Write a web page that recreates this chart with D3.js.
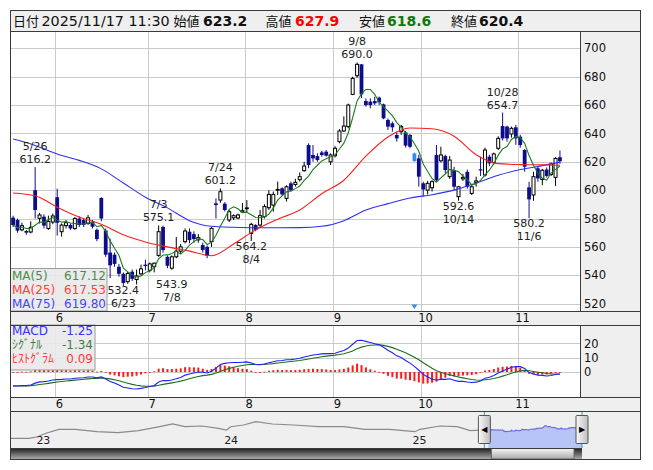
<!DOCTYPE html>
<html><head><meta charset="utf-8">
<script src="https://cdn.jsdelivr.net/npm/d3@7"></script>
<style>body{margin:0;background:#fff}svg{display:block}text{font-family:"DejaVu Sans","Noto Sans CJK JP",sans-serif}</style>
</head><body><svg id="c" width="653" height="470"></svg>
<script>
// ---------------- data ----------------
const dates = ["5/19","5/20","5/21","5/22","5/23","5/26","5/27","5/28","5/29","5/30",
"6/2","6/3","6/4","6/5","6/6","6/9","6/10","6/11","6/12","6/13","6/16","6/17","6/18","6/19","6/20","6/23","6/24","6/25","6/26","6/27","6/30",
"7/1","7/2","7/3","7/4","7/7","7/8","7/9","7/10","7/11","7/14","7/15","7/16","7/17","7/18","7/22","7/23","7/24","7/25","7/28","7/29","7/30","7/31",
"8/1","8/4","8/5","8/6","8/7","8/8","8/12","8/13","8/14","8/15","8/18","8/19","8/20","8/21","8/22","8/25","8/26","8/27","8/28","8/29",
"9/1","9/2","9/3","9/4","9/5","9/8","9/9","9/10","9/11","9/12","9/16","9/17","9/18","9/19","9/22","9/24","9/25","9/26","9/29","9/30",
"10/1","10/2","10/3","10/6","10/7","10/8","10/9","10/10","10/14","10/15","10/16","10/17","10/20","10/21","10/22","10/23","10/24","10/27","10/28","10/29","10/30","10/31",
"11/4","11/5","11/6","11/7","11/10","11/11","11/12","11/13","11/14","11/17"];
const opens = [580.6,579,572,571.2,570.5,600,580.1,581.3,573,577.5,
595,570.7,575,575.5,573,580,578.9,576.6,577.7,572,594.5,571.5,556,554.5,546,541,535.5,542.5,537,541,547.5,
543.5,546,554,574,553,545,553,557,563.7,570.7,569,565,561.3,560,563.7,590.7,593,590.5,579,580.5,580.4,584.6,
587,569.5,575.4,575.4,581.3,587.6,589.5,600.1,601.3,594.2,604.8,604,607.4,613.7,631.8,624.8,624,626.6,627.1,620,
624.3,634.2,641.7,644.8,667.5,680.7,688.7,662.8,662.4,662.8,665.2,660.5,649.5,647.1,638.9,641.2,640.7,638.9,625.9,622.4,
604.8,600,601.7,624.8,620.7,624,609.5,614.2,595.4,608,612.9,597.7,605.5,614.7,610.7,623.6,619.4,629.5,645.2,644.8,639.6,644.3,
637.7,628.3,602,596.6,615.4,607.5,614.5,611,609,623.2];
const highs = [582,580,577,572,578,616.2,584,583,582,583.5,
601,576.5,579,576.5,581,581.5,580,582.5,579,573,595,573,566,556,548,542,542.5,544,544,547.5,551,
549,549,575.1,575,554,554,567,562,573,573,571,569,563,561,574,594.2,601.2,591.5,586,583,583.5,591,
593,577,576,586,590,600,599,606,602,603.5,606,608,612.5,620,633,631.8,626,627.8,628.3,626,
631,643,652,661,680,690,688.9,664.7,664.7,665.9,666,661,650.6,648.3,641.2,646,641.7,639.5,626.5,625,
606,606.5,607,631.8,630.6,625,624,616.5,603,611.5,614.5,603.5,609.5,623.6,630,625,626.5,638,654.7,645.5,644.8,646,
639,629,605.9,613,617,615,616,619.5,623.2,627.9];
const lows = [574,570,571,568.5,569.5,580,576.5,573,572,576,
568,567.2,573,572,572,574,574,575.5,573,564,578,553,538,546,539,532.4,534,536,533.5,540,543.5,
542,542,553,556,545,543.9,552,555,562.5,562.5,563,563,556,552,560,580,591,585,577.5,579,579.5,584,
584,564.2,571,574,580,586,584.8,596.6,596,592,599,602.5,606,613,615.5,620,620,623.6,623.6,617.7,
623,633,641,643.6,667,679,665,658.9,657.7,660,660,650,642.4,641.2,634.2,639,630,629.5,620,602.5,
595.4,597,599,606,619.5,612,608,600,592.6,606.5,601,596.6,602.5,610,609.5,617,618,628.3,635,634.2,637,632,
630,613,580.2,592.5,606,603.5,609,610,603,618.6];
const closes = [575.4,571.5,575,570,573.8,586,582.5,575,578,581.8,
577,575.4,577,573,580,575.4,575.5,580.5,574.2,565.5,580,554.5,547,548,541,534.5,541.3,537.5,539.5,544.5,546.5,
548,548.5,570.7,557.8,546.7,553,557,560,571.2,564.8,565.5,566.5,557.8,553.8,573.1,589.5,598.9,586,584.8,582,582.5,585.5,
587.5,575.9,572,582,588.4,597,597,600.5,597,602.4,600,605.5,609.5,617,617.7,622.4,621.2,624.8,624.3,624.8,
629.5,641.7,645.2,660,678.8,688.7,667.5,660,660,661.2,661.9,650.6,644.8,644.3,636.5,644.8,631.4,630.6,620.5,609.5,
600.5,604.8,606,607.1,624.8,614.2,621.2,602.4,602.4,609,602.4,602.4,606.5,614.2,628.3,618.9,625.5,636.5,636.5,636.5,643.6,636.5,
631.8,616.5,593.5,609.5,608.3,614,610,618.5,622.4,620.4];
// moving averages 25 / 75 at every 5th session
const maIdx   = [0,5,10,15,20,25,30,35,40,45,50,55,60,65,70,75,80,85,90,95,100,105,110,115,120,124];
const ma25Vals = [598,596,588,581,576,568.5,563.5,560,557,553.8,562,572,579.5,586,597.5,607,624,637.5,643.8,643.3,638,625,618.7,618,617.8,617.5];
const ma75Vals = [636,631.5,625.5,621,615,605,595,587.5,578.5,574.5,573.8,573.5,573.5,573.6,574.5,578.5,586,590.5,594.5,596.8,600,605,610.5,614.5,617.3,619.8];
const priceTicks = [520,540,560,580,600,620,640,660,680,700];
const macdTicks = [0,10,20];
const highMarks = ["5/26","7/3","7/24","9/8","10/28"];
const lowMarks = ["6/23","7/8","8/4","10/14","11/6"];
const exRightsDate = "9/29";
const headerDate = "2025/11/17 11:30";
const headerLabels = ["始値","高値","安値","終値"];
const headerValues = ["623.2","627.9","618.6","620.4"];
const maLegendNames = ["MA(5)","MA(25)","MA(75)"];
const maLegendValues = ["617.12","617.53","619.80"];
const macdLegendNames = ["MACD","ｼｸﾞﾅﾙ","ﾋｽﾄｸﾞﾗﾑ"];
const macdLegendValues = ["-1.25","-1.34","0.09"];
// MACD state just before the first session
const macdStart = {ema12: 583, ema26: 592.8, signal: -9.8};
// navigator history (before the shown window)
const navDates = ["2022-11-02","2022-12-08","2022-12-25","2023-01-10","2023-02-04","2023-03-08","2023-04-19","2023-05-30","2023-07-09","2023-08-19","2023-09-13","2023-10-07","2023-11-09","2023-12-11","2023-12-27","2024-01-04","2024-01-29","2024-02-22","2024-03-25","2024-05-05","2024-06-23","2024-08-11","2024-09-21","2024-11-08","2024-12-27","2025-01-06","2025-02-14","2025-03-19","2025-04-14","2025-05-16"];
const navValues = [366,366,406,493,594,594,533,509,559,660,729,660,678,619,576,660,703,787,729,703,660,660,594,594,533,594,678,660,559,578];
const navYears = ["23","24","25"];

// ---------------- layout ----------------
const svg = d3.select("#c");
const L = 10.5, R = 640.5, PR = 580, TOP = 10.5, HB = 31, MB = 311, MT = 325, MCB = 397, NT = 411, ST = 448, BOT = 459.5;
const N = dates.length, SLOTS = 129, STEP = 4.41;
const x = d3.scaleBand().domain(d3.range(SLOTS)).range([10.9, 10.9 + SLOTS * STEP]).padding(0);
const cx = i => x(i) + x.bandwidth() / 2;
const y = d3.scaleLinear().domain([514.8, 712.2]).range([MB, HB]);
const yM = d3.scaleLinear().domain([-17.5, 32.9]).range([MCB, MT]);
const grid = "#cacaca", frame = "#3a3a3a", panel = "#efefef";

svg.append("rect").attr("x", L).attr("y", TOP).attr("width", R - L).attr("height", BOT - TOP).attr("fill", panel);
svg.append("rect").attr("x", L).attr("y", HB).attr("width", PR - L).attr("height", MB - HB).attr("fill", "#fff");
svg.append("rect").attr("x", L).attr("y", MT).attr("width", PR - L).attr("height", MCB - MT).attr("fill", "#fff");

const defs = svg.append("defs");
defs.append("clipPath").attr("id", "cm").append("rect").attr("x", L).attr("y", HB).attr("width", PR - L).attr("height", MB - HB);
defs.append("clipPath").attr("id", "cd").append("rect").attr("x", L).attr("y", MT).attr("width", PR - L).attr("height", MCB - MT);

// month starts
const monthStarts = [];
dates.forEach((d, i) => { if (i > 0 && d.split("/")[0] !== dates[i - 1].split("/")[0]) monthStarts.push(i); });

// ----- main gridlines -----
const gm = svg.append("g");
gm.selectAll(".h").data(priceTicks).join("line").attr("x1", L).attr("x2", PR)
  .attr("y1", d => Math.round(y(d)) + 0.5).attr("y2", d => Math.round(y(d)) + 0.5).attr("stroke", grid);
gm.selectAll(".v").data(monthStarts).join("line").attr("y1", HB).attr("y2", MB)
  .attr("x1", d => Math.round(x(d)) + 0.5).attr("x2", d => Math.round(x(d)) + 0.5).attr("stroke", grid);

// ----- candles -----
const cg = svg.append("g").attr("clip-path", "url(#cm)");
const down = "#0d0d8c", exCol = "#2e8cf0";
d3.range(N).forEach(i => {
  const up = closes[i] >= opens[i];
  const col = dates[i] === exRightsDate ? exCol : (up ? "#000" : down);
  cg.append("line").attr("x1", cx(i)).attr("x2", cx(i)).attr("y1", y(highs[i])).attr("y2", y(lows[i]))
    .attr("stroke", col).attr("stroke-width", 1);
  const top = y(Math.max(opens[i], closes[i])), bot = y(Math.min(opens[i], closes[i]));
  if (up) {
    cg.append("rect").attr("x", cx(i) - 1.5).attr("y", top).attr("width", 3).attr("height", Math.max(bot - top, 0.8))
      .attr("fill", "#fff").attr("stroke", "#000").attr("stroke-width", 1);
  } else {
    cg.append("rect").attr("x", cx(i) - 1.9).attr("y", top).attr("width", 3.8).attr("height", Math.max(bot - top, 1.2))
      .attr("fill", col);
  }
});

// ----- moving averages -----
const ma5 = closes.map((c, i) => d3.mean(closes.slice(Math.max(0, i - 4), i + 1)));
const lg = svg.append("g").attr("clip-path", "url(#cm)").attr("fill", "none");
lg.append("path").attr("d", d3.line().curve(d3.curveMonotoneX).x((d, k) => cx(maIdx[k])).y(d => y(d))(ma75Vals))
  .attr("stroke", "#2f2ff5").attr("stroke-width", 1.1);
lg.append("path").attr("d", d3.line().curve(d3.curveMonotoneX).x((d, k) => cx(maIdx[k])).y(d => y(d))(ma25Vals))
  .attr("stroke", "#f52020").attr("stroke-width", 1.1);
lg.append("path").attr("d", d3.line().x((d, i) => cx(i)).y(d => y(d))(ma5))
  .attr("stroke", "#1f7a1f").attr("stroke-width", 1.1);

// ----- high / low marks -----
const ann = svg.append("g").attr("font-size", "11px").attr("fill", "#222").attr("text-anchor", "middle");
highMarks.forEach(d => {
  const i = dates.indexOf(d), yy = y(highs[i]);
  ann.append("text").attr("x", cx(i)).attr("y", yy - 21).attr("dy", "0.36em").text(d);
  ann.append("text").attr("x", cx(i)).attr("y", yy - 8).attr("dy", "0.36em").text(highs[i].toFixed(1));
});
lowMarks.forEach(d => {
  const i = dates.indexOf(d);
  let yy = y(lows[i]);
  if (d === "7/8") yy += 9;
  const dateY = Math.min(yy + 18, 303);
  ann.append("text").attr("x", cx(i)).attr("y", dateY - 13).attr("dy", "0.36em").text(lows[i].toFixed(1));
  ann.append("text").attr("x", cx(i)).attr("y", dateY).attr("dy", "0.36em").text(d);
});
// ex-rights marker
const ei = dates.indexOf(exRightsDate);
svg.append("path").attr("d", `M${cx(ei) - 3},${304.5}L${cx(ei) + 3},${304.5}L${cx(ei)},${309}Z`).attr("fill", "#3b8be0");

// ----- MA legend -----
const leg = svg.append("g");
leg.append("rect").attr("x", L).attr("y", 268.5).attr("width", 96.5).attr("height", MB - 268.5)
  .attr("fill", "#e9e9e9").attr("fill-opacity", 0.9).attr("stroke", "#9a9a9a");
const maCols = ["#4b8b4b", "#ff4040", "#4545ff"];
maLegendNames.forEach((n, k) => {
  leg.append("text").attr("x", 12).attr("y", 276 + k * 13.6).attr("dy", "0.36em").attr("font-size", "12px").attr("fill", maCols[k]).text(n);
  leg.append("text").attr("x", 106).attr("y", 276 + k * 13.6).attr("dy", "0.36em").attr("font-size", "12px").attr("fill", maCols[k]).attr("text-anchor", "end").text(maLegendValues[k]);
});

// ----- price axis -----
const ax = svg.append("g").attr("transform", `translate(${PR},0)`)
  .call(d3.axisRight(y).tickValues(priceTicks).tickSize(0).tickPadding(4).tickFormat(d3.format("d")));
ax.select(".domain").remove();
ax.selectAll("text").attr("font-size", "11.5px").attr("fill", "#111").attr("font-family", "DejaVu Sans");

// ----- MACD panel -----
let e12 = macdStart.ema12, e26 = macdStart.ema26, sig = macdStart.signal;
const macd = [], signal = [], hist = [];
closes.forEach(c => {
  e12 += (2 / 13) * (c - e12); e26 += (2 / 27) * (c - e26);
  const m = e12 - e26; sig += 0.2 * (m - sig);
  macd.push(m); signal.push(sig); hist.push(m - sig);
});
const gd = svg.append("g");
gd.selectAll(".h").data(macdTicks).join("line").attr("x1", L).attr("x2", PR)
  .attr("y1", d => Math.round(yM(d)) + 0.5).attr("y2", d => Math.round(yM(d)) + 0.5).attr("stroke", grid);
gd.selectAll(".v").data(monthStarts).join("line").attr("y1", MT).attr("y2", MCB)
  .attr("x1", d => Math.round(x(d)) + 0.5).attr("x2", d => Math.round(x(d)) + 0.5).attr("stroke", grid);
const dg = svg.append("g").attr("clip-path", "url(#cd)");
dg.selectAll("rect").data(hist).join("rect")
  .attr("x", (d, i) => cx(i) - 1).attr("width", 2)
  .attr("y", d => yM(Math.max(0, d))).attr("height", d => Math.max(0.8, Math.abs(yM(d) - yM(0))))
  .attr("fill", "#ff1a1a");
dg.append("path").attr("d", d3.line().x((d, i) => cx(i)).y(d => yM(d))(signal)).attr("fill", "none").attr("stroke", "#1e6e1e").attr("stroke-width", 1.1);
dg.append("path").attr("d", d3.line().x((d, i) => cx(i)).y(d => yM(d))(macd)).attr("fill", "none").attr("stroke", "#2020ff").attr("stroke-width", 1.1);
const mx = svg.append("g").attr("transform", `translate(${PR},0)`)
  .call(d3.axisRight(yM).tickValues(macdTicks).tickSize(0).tickPadding(4).tickFormat(d3.format("d")));
mx.select(".domain").remove();
mx.selectAll("text").attr("font-size", "11.5px").attr("fill", "#111").attr("font-family", "DejaVu Sans");
const ml = svg.append("g");
ml.append("rect").attr("x", L).attr("y", MT).attr("width", 84.5).attr("height", 45)
  .attr("fill", "#e9e9e9").attr("fill-opacity", 0.9).attr("stroke", "#9a9a9a");
const mCols = ["#3535ff", "#3f7f3f", "#ff3a3a"];
macdLegendNames.forEach((n, k) => {
  ml.append("text").attr("x", 12).attr("y", 331 + k * 13.6).attr("dy", "0.36em").attr("font-size", "12px").attr("fill", mCols[k]).text(n);
  ml.append("text").attr("x", 93).attr("y", 331 + k * 13.6).attr("dy", "0.36em").attr("font-size", "12px").attr("fill", mCols[k]).attr("text-anchor", "end").text(macdLegendValues[k]);
});

// ----- month label strips -----
[318, 404].forEach(yy => {
  svg.append("g").selectAll("text").data(monthStarts).join("text")
    .attr("x", d => x(d) + 4.5).attr("y", yy).attr("dy", "0.36em").attr("text-anchor", "middle")
    .attr("font-size", "11.5px").attr("fill", "#111").text(d => +dates[d].split("/")[0]);
});

// ----- navigator -----
const parse = d3.timeParse("%Y-%m-%d");
const xN = d3.scaleTime().domain([new Date(2022, 10, 1), new Date(2025, 10, 17)]).range([10, 582]);
const yN = d3.scaleLinear().domain([120, 830]).range([ST, 420]);
const hist2 = navDates.map((d, k) => ({t: parse(d), v: navValues[k]}));
const recent = dates.map((d, i) => { const p = d.split("/"); return {t: new Date(2025, +p[0] - 1, +p[1]), v: closes[i]}; });
const ng = svg.append("g");
ng.append("path").attr("d", d3.line().x(d => xN(d.t)).y(d => yN(d.v))(hist2.concat([recent[0]])))
  .attr("fill", "none").attr("stroke", "#8a8a8a").attr("stroke-width", 1.2);
ng.append("path").attr("d", d3.area().x(d => xN(d.t)).y0(ST).y1(d => yN(d.v))(recent)).attr("fill", "#b6c5f5");
ng.append("path").attr("d", d3.line().x(d => xN(d.t)).y(d => yN(d.v))(recent)).attr("fill", "none").attr("stroke", "#6b6bd8").attr("stroke-width", 1.1);
navYears.forEach((yv, k) => {
  const t = new Date(2000 + +yv, 0, 1);
  ng.append("text").attr("x", xN(t) + 2).attr("y", 440).attr("dy", "0.36em").attr("text-anchor", "middle")
    .attr("font-size", "11px").attr("fill", "#222").text(yv);
});
const selA = xN(recent[0].t) - 4, selB = xN(recent[N - 1].t);
[selA, selB].forEach(xx => ng.append("line").attr("x1", xx).attr("x2", xx).attr("y1", NT).attr("y2", ST).attr("stroke", "#29a3d6"));
const hg = defs.append("linearGradient").attr("id", "hg").attr("x1", 0).attr("x2", 1);
hg.append("stop").attr("offset", 0).attr("stop-color", "#fafafa");
hg.append("stop").attr("offset", 1).attr("stop-color", "#bdbdbd");
[[selA, "◀"], [selB, "▶"]].forEach(([xx, s]) => {
  ng.append("rect").attr("x", xx - 6).attr("y", 415.5).attr("width", 12).attr("height", 28).attr("fill", "url(#hg)").attr("stroke", "#555").attr("rx", 1);
  ng.append("text").attr("x", xx).attr("y", 429.5).attr("dy", "0.36em").attr("text-anchor", "middle").attr("font-size", "8px").attr("fill", "#000").text(s);
});
// scrollbar
const sg = defs.append("linearGradient").attr("id", "sg").attr("x1", 0).attr("x2", 0).attr("y1", 0).attr("y2", 1);
sg.append("stop").attr("offset", 0).attr("stop-color", "#1c1c1c");
sg.append("stop").attr("offset", 1).attr("stop-color", "#b0b0b0");
const tg = defs.append("linearGradient").attr("id", "tg").attr("x1", 0).attr("x2", 0).attr("y1", 0).attr("y2", 1);
tg.append("stop").attr("offset", 0).attr("stop-color", "#f6f6f6");
tg.append("stop").attr("offset", 1).attr("stop-color", "#a8a8a8");
svg.append("rect").attr("x", L).attr("y", ST).attr("width", selB - L).attr("height", BOT - ST).attr("fill", "url(#sg)");
svg.append("rect").attr("x", selA + 7).attr("y", ST + 0.5).attr("width", selB - selA - 15).attr("height", BOT - ST - 1).attr("fill", "url(#tg)").attr("stroke", "#666");

// ----- frame lines -----
const fr = svg.append("g").attr("stroke", frame).attr("fill", "none");
fr.append("rect").attr("x", L).attr("y", TOP).attr("width", R - L).attr("height", BOT - TOP);
[HB, MB, MT, MCB, NT, ST].forEach(yy => fr.append("line").attr("x1", L).attr("x2", yy === ST ? selB : R).attr("y1", yy + 0.5).attr("y2", yy + 0.5));
fr.append("line").attr("x1", PR + 0.5).attr("x2", PR + 0.5).attr("y1", HB).attr("y2", MB);
fr.append("line").attr("x1", PR + 0.5).attr("x2", PR + 0.5).attr("y1", MT).attr("y2", MCB);

// ----- header -----
const hd = svg.append("g");
hd.append("text").attr("x", 13).attr("y", 25.5).attr("font-size", "13px").attr("font-family", "Noto Sans CJK JP").attr("fill", "#111").text("日付");
hd.append("text").attr("x", 41.5).attr("y", 26).attr("font-size", "14.3px").attr("fill", "#111").text(headerDate);
const lx = [173.5, 265.5, 359, 451], vx = [203, 295, 387, 479];
const vCols = ["#111", "#ff0000", "#117711", "#111"];
headerLabels.forEach((l, k) => {
  hd.append("text").attr("x", lx[k]).attr("y", 25.5).attr("font-size", "13px").attr("font-family", "Noto Sans CJK JP").attr("fill", "#111").text(l);
  hd.append("text").attr("x", vx[k]).attr("y", 26).attr("font-size", "14px").attr("font-weight", "bold").attr("fill", vCols[k]).text(headerValues[k]);
});
</script></body></html>
